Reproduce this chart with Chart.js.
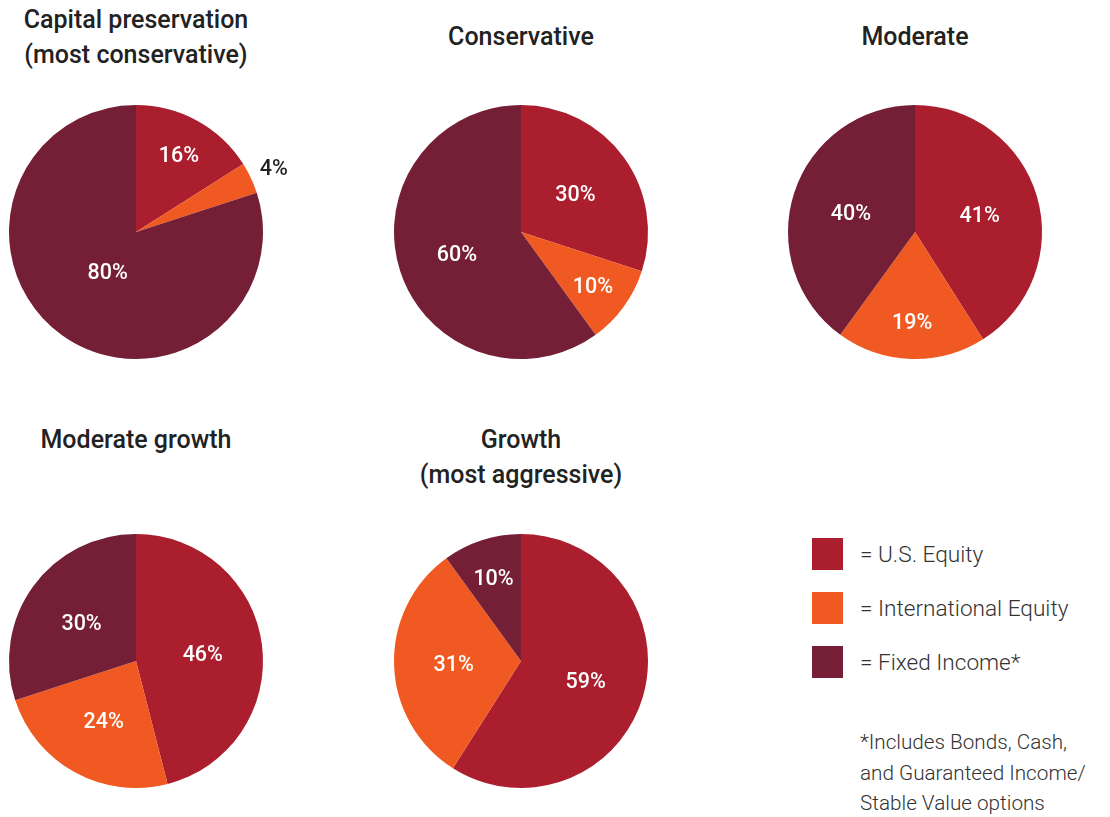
<!DOCTYPE html>
<html>
<head>
<meta charset="utf-8">
<script src="https://cdn.jsdelivr.net/npm/chart.js@4.4.1/dist/chart.umd.min.js"></script>
<style>
    body { margin: 0; width: 1110px; height: 817px; background: #fff; position: relative; overflow: hidden; font-family: Roboto, sans-serif; }
    .title { position: absolute; width: 320px; text-align: center; font-size: 25px; font-weight: 500; color: #222; line-height: 35px; }
    .pie { position: absolute; width: 320px; height: 320px; }
    .legend { position: absolute; left: 812px; top: 538px; }
    .legend-row { display: flex; align-items: center; height: 32px; margin-bottom: 22px; }
    .swatch { width: 31px; height: 32px; margin-right: 17px; }
    .legend-row span { font-size: 22.6px; font-weight: 300; color: #333; }
    .note { position: absolute; left: 860px; top: 727px; line-height: 30.5px; font-size: 20.7px; font-weight: 300; color: #333; }
</style>
</head>
<body>

<div class="title" style="left:-24px; top:2px;">Capital preservation<br>(most conservative)</div>
<div class="title" style="left:361px; top:19px;">Conservative</div>
<div class="title" style="left:755px; top:19px;">Moderate</div>
<div class="title" style="left:-24px; top:422px;">Moderate growth</div>
<div class="title" style="left:361px; top:422px;">Growth<br>(most aggressive)</div>

<div class="pie" style="left:-24px; top:72px;"><canvas id="pie-capital"></canvas></div>
<div class="pie" style="left:361px; top:72px;"><canvas id="pie-conservative"></canvas></div>
<div class="pie" style="left:755px; top:72px;"><canvas id="pie-moderate"></canvas></div>
<div class="pie" style="left:-24px; top:501px;"><canvas id="pie-modgrowth"></canvas></div>
<div class="pie" style="left:361px; top:501px;"><canvas id="pie-growth"></canvas></div>

<div class="legend" id="legend"></div>
<div class="note">*Includes Bonds, Cash,<br>and Guaranteed Income/<br>Stable Value options</div>

<script>
// Asset classes, in slice order (clockwise from 12 o'clock)
const assetClasses = ['U.S. Equity', 'International Equity', 'Fixed Income*'];
const assetColors = ['#ab1e2d', '#f05a22', '#741f36'];

// Allocation (%) per portfolio, same order as assetClasses
const capitalPreservation = [16, 4, 80];
const conservative = [30, 10, 60];
const moderate = [41, 19, 40];
const moderateGrowth = [46, 24, 30];
const growth = [59, 31, 10];

// Percent labels drawn on each slice
const sliceLabels = {
    id: 'sliceLabels',
    afterDatasetsDraw(chart) {
        const ctx = chart.ctx;
        const meta = chart.getDatasetMeta(0);
        const values = chart.data.datasets[0].data;
        ctx.save();
        ctx.font = '500 21.5px Roboto, sans-serif';
        ctx.textAlign = 'center';
        ctx.textBaseline = 'middle';
        meta.data.forEach((arc, i) => {
            const v = values[i];
            const { x, y, startAngle, endAngle, outerRadius } = arc.getProps(['x', 'y', 'startAngle', 'endAngle', 'outerRadius'], true);
            const mid = (startAngle + endAngle) / 2;
            // small slices get their label pushed out, tiny ones outside the pie
            let f = 0.53;
            if (v < 8) f = 1.2;
            else if (v < 20) f = 0.7;
            else if (v > 70) f = 0.38;
            ctx.fillStyle = v < 8 ? '#222' : '#fff';
            ctx.fillText(v + '%', x + Math.cos(mid) * outerRadius * f, y + 3 + Math.sin(mid) * outerRadius * f);
        });
        ctx.restore();
    }
};

function renderPie(id, values) {
    const canvas = document.getElementById(id);
    new Chart(canvas, {
        type: 'pie',
        data: {
            labels: assetClasses,
            datasets: [{
                data: values,
                backgroundColor: assetColors,
                borderWidth: 0
            }]
        },
        options: {
            responsive: true,
            maintainAspectRatio: false,
            animation: false,
            layout: { padding: 33 },
            plugins: {
                legend: { display: false },
                tooltip: { enabled: false }
            }
        },
        plugins: [sliceLabels]
    });
}

renderPie('pie-capital', capitalPreservation);
renderPie('pie-conservative', conservative);
renderPie('pie-moderate', moderate);
renderPie('pie-modgrowth', moderateGrowth);
renderPie('pie-growth', growth);

const legend = document.getElementById('legend');
assetClasses.forEach((name, i) => {
    legend.insertAdjacentHTML('beforeend',
        `<div class="legend-row"><div class="swatch" style="background:${assetColors[i]}"></div><span>= ${name}</span></div>`);
});
</script>
</body>
</html>
